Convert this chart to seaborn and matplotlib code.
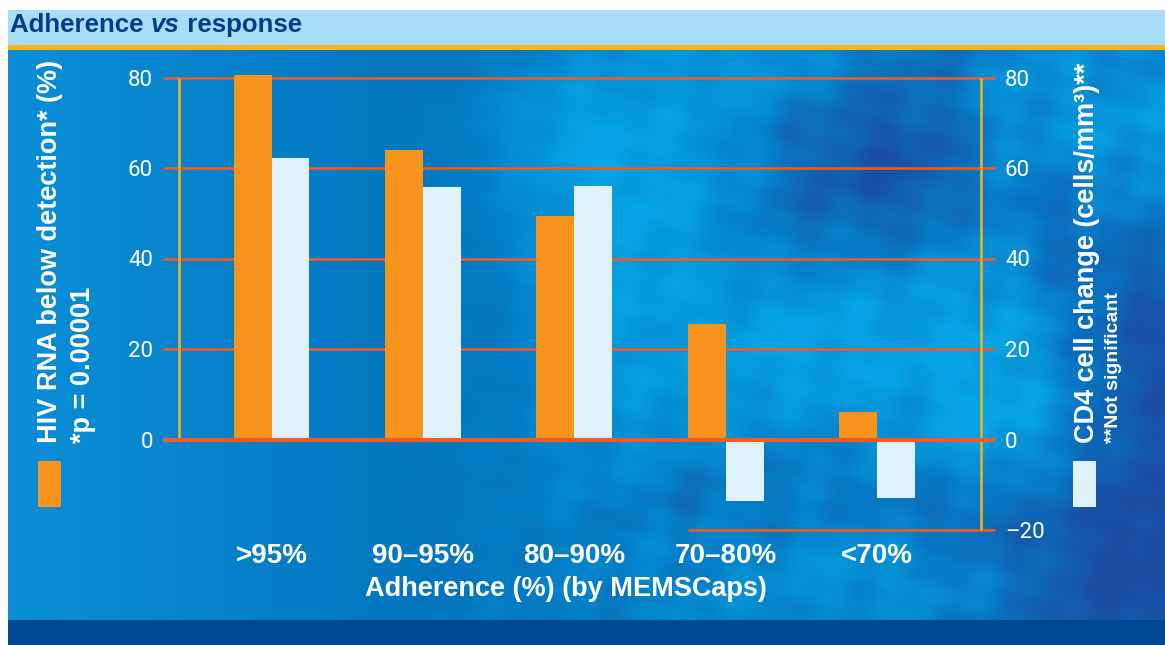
import numpy as np
import pandas as pd
import matplotlib
matplotlib.use("Agg")
import matplotlib.pyplot as plt
from matplotlib import colors as mcolors
from matplotlib.patches import Rectangle
import seaborn as sns

# ---- data ----
categories = [">95%", "90–95%", "80–90%", "70–80%", "<70%"]
hiv_rna_below_detection = [80.5, 64.0, 49.5, 25.5, 6.0]   # % (left axis)
cd4_change = [62.3, 55.7, 56.1, -13.6, -13.0]             # cells/mm3 (right axis)
left_ticks = [0, 20, 40, 60, 80]
right_ticks = [-20, 0, 20, 40, 60, 80]
right_tick_labels = ["–20", "0", "20", "40", "60", "80"]

series_names = ["HIV RNA below detection", "CD4 cell change"]
df = pd.DataFrame({
    "adherence": categories * 2,
    "measure": [series_names[0]] * len(categories) + [series_names[1]] * len(categories),
    "value": hiv_rna_below_detection + cd4_change,
})

ORANGE = "#f7941d"
PALE = "#e0f3fb"
GRID = "#f15a24"
YELLOW = "#f7b418"
TITLE_BAND = "#a9ddf7"
TITLE_TEXT = "#003e87"
RULE = "#f8b21c"
FOOT = "#004890"

BOLD = "Liberation Sans"
TICKFONT = "Roboto"

W, H = 1165, 645

# ---- background: bands and a cloudy blue panel ----
def rgb(h):
    return np.array(mcolors.to_rgb(h))

yy, xx = np.mgrid[0:H, 0:W].astype(float)
sx_stops = [0, 420, 700, 1165]
sc_stops = [rgb("#0b8fd7"), rgb("#0376bf"), rgb("#0386cc"), rgb("#0b6cbc")]
base = np.stack([np.interp(xx, sx_stops, [c[i] for c in sc_stops]) for i in range(3)], axis=-1)

blobs = [
    (620, 220, 130, 90, 1.0), (560, 120, 60, 40, 0.6), (830, 330, 90, 70, 0.9),
    (1000, 440, 70, 60, 0.9), (990, 290, 55, 80, 0.7), (1125, 140, 60, 90, 0.8),
    (760, 70, 80, 30, 0.5), (900, 570, 110, 40, 0.6), (650, 420, 90, 60, 0.5),
    (1010, 110, 40, 60, 0.6),
    (880, 170, 90, 70, -1.0), (760, 250, 60, 50, -0.6), (1140, 560, 90, 90, -1.2),
    (1150, 340, 40, 80, -0.8), (720, 480, 80, 50, -0.5), (960, 520, 60, 40, -0.6),
    (470, 280, 60, 90, -0.35), (1060, 230, 40, 50, -0.5),
]
field = np.zeros_like(xx)
for cx, cy, bsx, bsy, a in blobs:
    field += a * np.exp(-0.5 * ((xx - cx) / bsx) ** 2 - 0.5 * ((yy - cy) / bsy) ** 2)
texture = (0.22 * np.sin(xx / 19 + yy / 31) * np.sin(yy / 23 - xx / 41)
           + 0.14 * np.sin(xx / 11 - yy / 13) * np.cos(yy / 9 + xx / 27))
weight = np.clip((xx - 380) / 250, 0, 1)
field = np.clip(field * weight + texture * weight, -1, 1)
pos = np.clip(field, 0, 1)[..., None]
neg = np.clip(-field, 0, 1)[..., None]
panel = base * (1 - pos - neg) + rgb("#06a4e4") * pos + rgb("#1a4ea3") * neg

img = np.ones((H, W, 3))
img[10:45, 8:] = rgb(TITLE_BAND)
img[45:50, 8:] = rgb(RULE)
img[50:620, 8:] = panel[50:620, 8:]
img[620:, 8:] = rgb(FOOT)

fig = plt.figure(figsize=(W / 100, H / 100), dpi=100)
bg = fig.add_axes([0, 0, 1, 1], zorder=0)
bg.imshow(img, extent=(0, W, H, 0), interpolation="bilinear", aspect="auto")
bg.set_xlim(0, W)
bg.set_ylim(H, 0)
bg.axis("off")

# ---- bar chart ----
ax = fig.add_axes([163 / W, 1 - 530 / H, 832 / W, 452.5 / H], zorder=2)
ax.patch.set_alpha(0)
sns.barplot(data=df, x="adherence", y="value", hue="measure", order=categories,
            hue_order=series_names, palette=[ORANGE, PALE], saturation=1,
            width=0.5, gap=0, errorbar=None, legend=False, linewidth=0, ax=ax, zorder=3)
for bar in ax.patches:
    bar.set_clip_on(False)

xmin, xmax = -0.717, 4.779
ax.set_xlim(xmin, xmax)
ax.set_ylim(-20, 80)
for s in ax.spines.values():
    s.set_visible(False)

# horizontal rules
for t in left_ticks[1:]:
    ax.hlines(t, xmin, xmax, color=GRID, lw=1.9, zorder=1, clip_on=False)
ax.hlines(0, xmin, xmax, color=GRID, lw=3.0, zorder=5, clip_on=False)
ax.hlines(-20, 2.75, xmax, color=GRID, lw=1.9, zorder=1, clip_on=False)
# vertical axis rules
ax.vlines(-0.614, 0, 80, color=YELLOW, lw=1.8, zorder=2, clip_on=False)
ax.vlines(4.685, -20, 80, color=YELLOW, lw=1.8, zorder=2, clip_on=False)

ax.set_yticks(left_ticks)
ax.set_yticklabels([str(t) for t in left_ticks])
ax.tick_params(axis="y", length=0, pad=7.2, labelcolor="white")
for lab in ax.get_yticklabels():
    lab.set_fontfamily(TICKFONT)
    lab.set_fontsize(16)

ax.set_xticks(range(len(categories)))
ax.set_xticklabels(categories)
ax.tick_params(axis="x", length=0, pad=9.5, labelcolor="white")
for lab in ax.get_xticklabels():
    lab.set_fontfamily(BOLD)
    lab.set_fontweight("bold")
    lab.set_fontsize(20)
ax.set_xlabel("")
ax.set_ylabel("")

ax2 = ax.twinx()
ax2.set_zorder(2)
ax2.patch.set_alpha(0)
ax2.set_ylim(ax.get_ylim())
ax2.set_yticks(right_ticks)
ax2.set_yticklabels(right_tick_labels)
ax2.tick_params(axis="y", length=0, pad=7.2, labelcolor="white")
for lab in ax2.get_yticklabels():
    lab.set_fontfamily(TICKFONT)
    lab.set_fontsize(16)
for s in ax2.spines.values():
    s.set_visible(False)

# ---- text ----
bg.text(566, 589, "Adherence (%) (by MEMSCaps)", color="white", fontfamily=BOLD,
        fontweight="bold", fontsize=19.5, ha="center", va="center")

bg.text(50, 443, "HIV RNA below detection* (%)", color="white", fontfamily=BOLD,
        fontweight="bold", fontsize=19.5, rotation=90, ha="center", va="bottom")
bg.text(83, 443, "*p = 0.00001", color="white", fontfamily=BOLD,
        fontweight="bold", fontsize=19.5, rotation=90, ha="center", va="bottom")
bg.text(1087, 443, "CD4 cell change (cells/mm³)**", color="white", fontfamily=BOLD,
        fontweight="bold", fontsize=19.5, rotation=90, ha="center", va="bottom")
bg.text(1114, 443, "**Not significant", color="white", fontfamily=BOLD,
        fontweight="bold", fontsize=14, rotation=90, ha="center", va="bottom")

bg.add_patch(Rectangle((38, 461), 23, 46, facecolor=ORANGE, edgecolor="none"))
bg.add_patch(Rectangle((1073, 461), 23, 46, facecolor=PALE, edgecolor="none"))

# title with italic "vs"
renderer = fig.canvas.get_renderer()
x0 = 10
for part, style in [("Adherence ", "normal"), ("vs", "italic"), (" response", "normal")]:
    t = bg.text(x0, 32, part, color=TITLE_TEXT, fontfamily=BOLD, fontweight="bold",
                fontstyle=style, fontsize=18.6, ha="left", va="baseline")
    ext = t.get_window_extent(renderer=renderer)
    x0 += ext.width

fig.savefig("out.png", dpi=100)
